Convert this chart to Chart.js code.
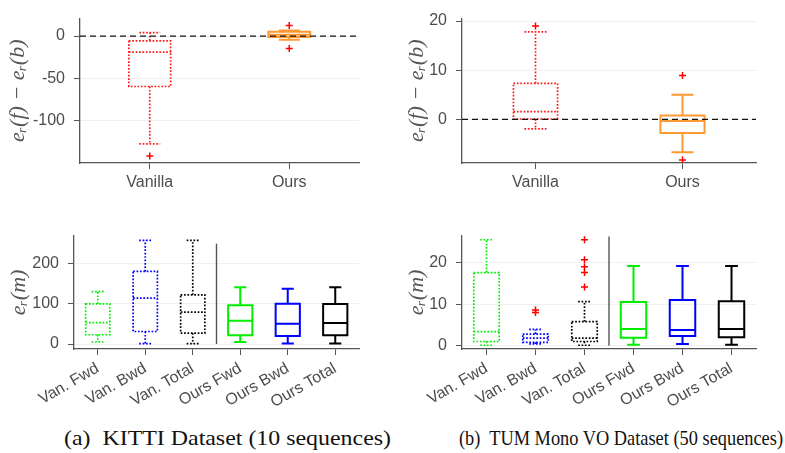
<!DOCTYPE html>
<html>
<head>
<meta charset="utf-8">
<script src="https://cdn.jsdelivr.net/npm/chart.js@4.4.0/dist/chart.umd.min.js"></script>
<style>
body { margin: 0; background: #fff; width: 785px; height: 453px; position: relative; overflow: hidden; }
canvas { position: absolute; }
.cap { position: absolute; font-family: "Liberation Serif", serif; font-size: 22px; color: #111; white-space: pre; line-height: 1; transform-origin: left top; }
</style>
</head>
<body>
<canvas id="tl" width="392" height="215" style="left:0;top:0"></canvas>
<canvas id="tr" width="393" height="215" style="left:392px;top:0"></canvas>
<canvas id="bl" width="392" height="200" style="left:0;top:215px"></canvas>
<canvas id="br" width="393" height="200" style="left:392px;top:215px"></canvas>
<div class="cap" id="capA" style="left:64px;top:427px">(a)  KITTI Dataset (10 sequences)</div>
<div class="cap" id="capB" style="left:459px;top:427px">(b)  TUM Mono VO Dataset (50 sequences)</div>
<script>
// categories
const topCats = ['Vanilla', 'Ours'];
const botCats = ['Van. Fwd', 'Van. Bwd', 'Van. Total', 'Ours Fwd', 'Ours Bwd', 'Ours Total'];

// (a) KITTI: e_r(f) - e_r(b)
const kDiffLow = [-127.4, -4.5];
const kDiffQ1 = [-59.6, -1.2];
const kDiffMed = [-19, 1.5];
const kDiffQ3 = [-5.6, 5.0];
const kDiffHigh = [4, 6.5];
const kDiffOut = [['Vanilla', -141.6], ['Ours', 12.4], ['Ours', -14.6]];
const kDiffTicks = [-100, -50, 0];
const kDiffRange = [-150, 20.6];

// (b) TUM: e_r(f) - e_r(b)
const tDiffLow = [-1.95, -6.7];
const tDiffQ1 = [0.06, -2.8];
const tDiffMed = [1.56, -0.33];
const tDiffQ3 = [7.3, 0.78];
const tDiffHigh = [17.8, 5.0];
const tDiffOut = [['Vanilla', 19.0], ['Ours', 8.9], ['Ours', -8.3]];
const tDiffTicks = [0, 10, 20];
const tDiffRange = [-8.9, 20.5];

// (a) KITTI: e_r per direction
const kErrLow = [5, 1, 1, 5, 1, 1];
const kErrQ1 = [23, 31, 27, 22, 20, 22];
const kErrMed = [53, 114, 79, 58, 50, 52];
const kErrQ3 = [99.5, 180, 122, 96, 100, 99];
const kErrHigh = [130, 257, 257, 141, 137, 141];
const kErrOut = [];
const kErrTicks = [0, 100, 200];
const kErrRange = [-12.4, 268];
const kErrSep = [0, 249];

// (b) TUM: e_r per direction
const tErrLow = [0.1, 0.4, 0.1, 0.2, 0.4, 0.2];
const tErrQ1 = [1.0, 0.8, 1.0, 1.9, 2.3, 2.0];
const tErrMed = [3.4, 1.8, 1.8, 4.0, 3.8, 4.0];
const tErrQ3 = [17.6, 2.8, 5.8, 10.5, 11.0, 10.7];
const tErrHigh = [25.5, 3.9, 10.6, 19.2, 19.2, 19.2];
const tErrOut = [['Van. Bwd', 8.0], ['Van. Bwd', 8.6], ['Van. Total', 14.1], ['Van. Total', 17.6],
                 ['Van. Total', 19.0], ['Van. Total', 20.7], ['Van. Total', 25.5]];
const tErrTicks = [0, 10, 20];
const tErrRange = [-0.8, 26.4];
const tErrSep = [0, 26.3];

// styles
const topColors = ['#ff1a1a', '#ff9933'];
const topDotted = [true, false];
const botColors = ['#00ee00', '#0000ff', '#000000', '#00ee00', '#0000ff', '#000000'];
const botDotted = [true, true, true, false, false, false];

const boxPlugin = {
  id: 'boxes',
  beforeDatasetsDraw(chart, args, o) {
    const {ctx, chartArea: a, scales: {x, y}} = chart;
    const step = x.getPixelForValue(1) - x.getPixelForValue(0);
    const bw = step * o.frac, cw = bw / 2;
    const py = v => y.getPixelForValue(v);
    ctx.save();
    o.q1.forEach((_, i) => {
      const cx = x.getPixelForValue(i);
      ctx.strokeStyle = o.colors[i];
      ctx.lineWidth = o.dotted[i] ? 1.7 : 2;
      ctx.setLineDash(o.dotted[i] ? [1.7, 1.7] : []);
      ctx.beginPath();
      ctx.moveTo(cx, py(o.q3[i])); ctx.lineTo(cx, py(o.high[i]));
      ctx.moveTo(cx, py(o.q1[i])); ctx.lineTo(cx, py(o.low[i]));
      ctx.moveTo(cx - cw / 2, py(o.high[i])); ctx.lineTo(cx + cw / 2, py(o.high[i]));
      ctx.moveTo(cx - cw / 2, py(o.low[i])); ctx.lineTo(cx + cw / 2, py(o.low[i]));
      ctx.moveTo(cx - bw / 2, py(o.med[i])); ctx.lineTo(cx + bw / 2, py(o.med[i]));
      ctx.rect(cx - bw / 2, py(o.q3[i]), bw, py(o.q1[i]) - py(o.q3[i]));
      ctx.stroke();
    });
    ctx.setLineDash([]);
    if (o.sep) {
      const sx = (x.getPixelForValue(2) + x.getPixelForValue(3)) / 2;
      ctx.strokeStyle = '#555';
      ctx.lineWidth = 1.4;
      ctx.beginPath();
      ctx.moveTo(sx, py(o.sep[0])); ctx.lineTo(sx, py(o.sep[1]));
      ctx.stroke();
    }
    if (o.zero) {
      ctx.strokeStyle = '#111';
      ctx.lineWidth = 1.2;
      ctx.setLineDash([6, 4]);
      ctx.beginPath();
      ctx.moveTo(a.left, py(0)); ctx.lineTo(a.right, py(0));
      ctx.stroke();
    }
    ctx.restore();
  }
};

function makePanel(id, cfg) {
  return new Chart(document.getElementById(id), {
    type: 'line',
    data: {
      labels: cfg.cats,
      datasets: [{
        data: cfg.out.map(p => ({x: p[0], y: p[1]})),
        showLine: false,
        pointStyle: 'cross',
        pointRadius: 3.5,
        pointBorderColor: '#ff0000',
        pointBorderWidth: 1.5
      }]
    },
    options: {
      responsive: false,
      animation: false,
      events: [],
      layout: {padding: {top: cfg.top, right: cfg.right, left: 0, bottom: 0}},
      plugins: {legend: {display: false}, tooltip: {enabled: false}, boxes: cfg},
      scales: {
        x: {
          type: 'category',
          offset: true,
          grid: {drawOnChartArea: false, tickLength: 6, tickColor: '#555'},
          border: {color: '#555', width: 1.3},
          ticks: {color: '#4d4d4d', font: {family: 'Liberation Sans', size: 16},
                  minRotation: cfg.rot, maxRotation: cfg.rot, autoSkip: false, padding: 4},
          afterFit(s) { s.height = cfg.xh; s.paddingLeft = 0; s.paddingRight = 0; }
        },
        y: {
          min: cfg.range[0],
          max: cfg.range[1],
          afterBuildTicks(s) { s.ticks = cfg.ticks.map(v => ({value: v})); },
          grid: {color: '#f0f0f0', tickLength: 6, tickColor: '#555'},
          border: {color: '#555', width: 1.3},
          ticks: {color: '#4d4d4d', font: {family: 'Liberation Sans', size: 16}, padding: 9},
          title: {display: true, text: cfg.title, color: '#555',
                  font: {family: 'Liberation Serif', style: 'italic', size: 22},
                  padding: {top: cfg.tpad, bottom: 0}},
          afterFit(s) { s.width = cfg.yw; }
        }
      }
    },
    plugins: [boxPlugin]
  });
}

makePanel('tl', {cats: topCats, low: kDiffLow, q1: kDiffQ1, med: kDiffMed, q3: kDiffQ3, high: kDiffHigh,
  out: kDiffOut, ticks: kDiffTicks, range: kDiffRange, colors: topColors, dotted: topDotted,
  frac: 0.30, zero: true, title: 'eᵣ(f) − eᵣ(b)', tpad: 5, top: 11, right: 33, xh: 52, yw: 80, rot: 0});
makePanel('tr', {cats: topCats, low: tDiffLow, q1: tDiffQ1, med: tDiffMed, q3: tDiffQ3, high: tDiffHigh,
  out: tDiffOut, ticks: tDiffTicks, range: tDiffRange, colors: topColors, dotted: topDotted,
  frac: 0.30, zero: true, title: 'eᵣ(f) − eᵣ(b)', tpad: 12, top: 12, right: 29, xh: 52, yw: 70, rot: 0});
makePanel('bl', {cats: botCats, low: kErrLow, q1: kErrQ1, med: kErrMed, q3: kErrQ3, high: kErrHigh,
  out: kErrOut, ticks: kErrTicks, range: kErrRange, colors: botColors, dotted: botDotted,
  frac: 0.51, sep: kErrSep, title: 'eᵣ(m)', tpad: 6, top: 21, right: 33, xh: 66, yw: 74, rot: 30});
makePanel('br', {cats: botCats, low: tErrLow, q1: tErrQ1, med: tErrMed, q3: tErrQ3, high: tErrHigh,
  out: tErrOut, ticks: tErrTicks, range: tErrRange, colors: botColors, dotted: botDotted,
  frac: 0.52, sep: tErrSep, title: 'eᵣ(m)', tpad: 12, top: 21, right: 29, xh: 66, yw: 70, rot: 30});

// stretch captions to the printed width
[['capA', 327], ['capB', 324]].forEach(([id, w]) => {
  const el = document.getElementById(id);
  el.style.transform = 'scaleX(' + (w / el.getBoundingClientRect().width) + ')';
});
</script>
</body>
</html>
